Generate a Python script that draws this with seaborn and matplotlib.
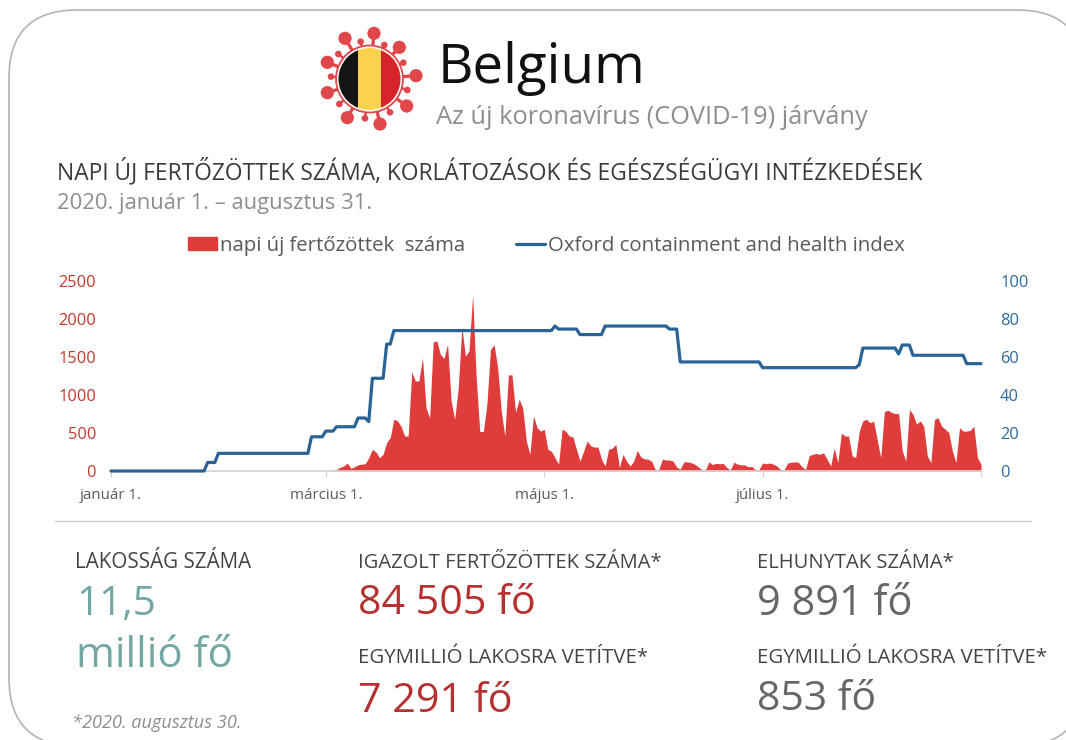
import matplotlib
matplotlib.use("Agg")
import matplotlib.pyplot as plt
from matplotlib.patches import FancyBboxPatch, Circle, Rectangle
from matplotlib.lines import Line2D
from matplotlib.patches import Patch
import pandas as pd
import seaborn as sns

# ---------- data ----------
start_date = "2020-01-01"
new_cases_first_60_days = [0] * 60
new_cases_from_march = [
    0, 0, 10, 20, 50, 65, 105, 35, 55, 80, 90, 95, 175, 285, 250, 175, 220, 375, 440, 680,
    660, 590, 460, 460, 1305, 1185, 1185, 1490, 830, 700, 1700, 1710, 1535, 1480, 1670, 920, 680, 1100, 1890, 1510,
    1580, 2315, 1230, 520, 520, 880, 1600, 1660, 1360, 790, 460, 1265, 1265, 770, 945, 830, 395, 220, 725, 570,
    525, 550, 285, 260, 175, 90, 550, 525, 460, 450, 285, 130, 260, 395, 330, 315, 315, 155, 65, 285,
    300, 350, 45, 220, 130, 65, 130, 270, 185, 160, 155, 130, 20, 20, 155, 145, 145, 130, 50, 25,
    120, 120, 110, 90, 55, 20, 10, 120, 85, 100, 95, 100, 45, 15, 115, 90, 80, 80, 55, 60,
    15, 20, 105, 95, 105, 90, 65, 20, 15, 105, 115, 120, 115, 55, 20, 200, 220, 230, 220, 240,
    155, 65, 300, 110, 500, 460, 460, 200, 175, 525, 660, 680, 635, 655, 415, 175, 780, 800, 770, 755,
    755, 265, 130, 810, 745, 615, 660, 590, 200, 110, 680, 700, 590, 550, 505, 265, 110, 570, 525, 525,
    535, 590, 175, 90,
]
index_values = (
    [0] * 27 + [4.5] * 3 + [9.3] * 26 + [18] * 4 + [21] * 3 + [23.3] * 6 + [27.9] * 3 + [26]
    + [48.8] * 4 + [66.8] * 2 + [73.9] * 45 + [76.3, 74.7] + [74.7] * 5 + [71.8] * 7 + [76.3] * 18
    + [74.7] * 3 + [57.4] * 23 + [54.4] * 27 + [56.0] + [64.7] * 10 + [61.6] + [66.3] * 3 + [60.9] * 15
    + [56.5] * 5
)
case_ticks = [0, 500, 1000, 1500, 2000, 2500]
index_ticks = [0, 20, 40, 60, 80, 100]
month_ticks = ["2020-01-01", "2020-03-01", "2020-05-01", "2020-07-01", "2020-08-31"]
month_labels = ["január 1.", "március 1.", "május 1.", "július 1.", ""]
case_label = "napi új fertőzöttek  száma"
index_label = "Oxford containment and health index"

# ---------- assemble ----------
new_cases = new_cases_first_60_days + new_cases_from_march
n = min(len(new_cases), len(index_values))
df = pd.DataFrame({
    "date": pd.date_range(start_date, periods=n),
    "cases": new_cases[:n],
    "index": index_values[:n],
})

sns.set_theme(style="white")
FONT = ["Open Sans", "DejaVu Sans"]
plt.rcParams["font.family"] = FONT

W, H = 1066, 740
RED_AREA, BLUE = "#e03c3c", "#2a6496"
RED_TICK, BLUE_TICK = "#c0392b", "#2f6a9c"
GREY_TXT, DARK_TXT = "#8e8e8e", "#3a3a3a"
TEAL, DEEP_RED, MID_GREY = "#72a7a3", "#b5302f", "#666666"

fig = plt.figure(figsize=(W / 100, H / 100), dpi=100, facecolor="white")

# overlay in pixel coordinates for frame, logo, text
bg = fig.add_axes([0, 0, 1, 1], zorder=0)
bg.set_xlim(0, W)
bg.set_ylim(H, 0)
bg.axis("off")
bg.add_patch(FancyBboxPatch((9, 10), 1076, 736, boxstyle="round,pad=0,rounding_size=68",
                            fc="white", ec="#b4b4b4", lw=1.2))
bg.add_line(Line2D([55, 1031], [521, 521], color="#cccccc", lw=1.0))

# chart
ax = fig.add_axes([111 / W, 1 - 471 / H, (981 - 111) / W, 190 / H], zorder=2)
ax.patch.set_alpha(0)
ax.fill_between(df["date"], df["cases"], 0, color=RED_AREA, lw=0, zorder=2)
ax.set_ylim(0, 2500)
ax.set_xlim(df["date"].iloc[0], df["date"].iloc[-1])
ax.set_yticks(case_ticks)
ax.set_xticks(pd.to_datetime(month_ticks))
ax.set_xticklabels(month_labels, color="#595959", fontsize=10.8)
ax.tick_params(axis="y", length=0, pad=10.8, labelcolor=RED_TICK, labelsize=11.8)
ax.tick_params(axis="x", length=4, width=0.8, color="#d0d0d0", pad=8, bottom=True)
ax.set_xlabel("")
ax.set_ylabel("")
for s in ["top", "left", "right"]:
    ax.spines[s].set_visible(False)
ax.spines["bottom"].set_color("#d5d5d5")

ax2 = ax.twinx()
ax2.set_zorder(3)
sns.lineplot(data=df, x="date", y="index", ax=ax2, color=BLUE, lw=2.3, legend=False, clip_on=False)
ax2.set_ylim(0, 100)
ax2.set_yticks(index_ticks)
ax2.tick_params(axis="y", length=0, pad=13.7, labelcolor=BLUE_TICK, labelsize=11.8)
ax2.set_ylabel("")
ax2.set_xlabel("")
for s in ["top", "left", "right", "bottom"]:
    ax2.spines[s].set_visible(False)

# legend
leg = ax.legend(
    handles=[Patch(color=RED_AREA, label=case_label), Line2D([0], [0], color=BLUE, lw=2.3, label=index_label)],
    ncol=2, loc="center left", bbox_to_anchor=((188 - 111) / 870, (471 - 246) / 190), frameon=False,
    fontsize=14.65, labelcolor="#595959", handlelength=1.42, handleheight=0.6, handletextpad=0.15, columnspacing=2.5,
    borderaxespad=0, borderpad=0,
)
leg.set_zorder(5)

# logo
cx, cy = 369.5, 79
LOGO_RED = "#e0474a"
big_blobs = [(222, 70), (298, 112), (348, 197), (320, 288), (240, 342), (142, 323), (82, 248), (82, 157), (135, 85)]
small_blobs = [(182, 95), (253, 105), (310, 158), (322, 240), (270, 307), (195, 325), (118, 282), (93, 200), (115, 132)]
for blobs, r, lw in ((big_blobs, 6.6, 2.4), (small_blobs, 3.3, 1.8)):
    for zx, zy in blobs:
        px, py = 300 + zx / 3, 10 + zy / 3
        bg.add_line(Line2D([cx, px], [cy, py], color=LOGO_RED, lw=lw, zorder=3))
        bg.add_patch(Circle((px, py), r, fc=LOGO_RED, ec="none", zorder=3))
bg.add_patch(Circle((cx, cy), 33.5, fc="white", ec=LOGO_RED, lw=1.3, zorder=4))
clip = Circle((cx, cy), 31, transform=bg.transData)
for x0, x1, col in ((330, 358.3, "#141414"), (358.3, 380.7, "#fbd24e"), (380.7, 410, "#d8232a")):
    rect = Rectangle((x0, 40), x1 - x0, 80, fc=col, ec="none", zorder=5)
    bg.add_patch(rect)
    rect.set_clip_path(clip)

# text fitted to its measured pixel width
renderer = fig.canvas.get_renderer()
def fitted(x, y, s, width, color, size=12, **kw):
    t = bg.text(x, y, s, color=color, fontsize=size, va="center", ha="left", zorder=6, **kw)
    w = t.get_window_extent(renderer).width
    t.set_fontsize(size * width / w)
    return t

fitted(438, 69, "Belgium", 207, "#111111")
fitted(436, 117, "Az új koronavírus (COVID-19) járvány", 429, GREY_TXT)
fitted(57, 172, "NAPI ÚJ FERTŐZÖTTEK SZÁMA, KORLÁTOZÁSOK ÉS EGÉSZSÉGÜGYI INTÉZKEDÉSEK", 865, DARK_TXT)
fitted(57, 203, "2020. január 1. – augusztus 31.", 315, GREY_TXT)

fitted(75, 563, "LAKOSSÁG SZÁMA", 176, "#444444")
fitted(76, 605, "11,5", 79, TEAL)
fitted(76, 656, "millió fő", 156, TEAL)
fitted(72, 723, "*2020. augusztus 30.", 169, GREY_TXT, style="italic")

fitted(358, 563, "IGAZOLT FERTŐZÖTTEK SZÁMA*", 302, "#444444")
fitted(358, 604, "84 505 fő", 178, DEEP_RED)
fitted(358, 658, "EGYMILLIÓ LAKOSRA VETÍTVE*", 289, "#444444")
fitted(358, 702, "7 291 fő", 154, DEEP_RED)

fitted(757, 563, "ELHUNYTAK SZÁMA*", 196, "#444444")
fitted(757, 604, "9 891 fő", 155, MID_GREY)
fitted(757, 658, "EGYMILLIÓ LAKOSRA VETÍTVE*", 290, "#444444")
fitted(757, 700, "853 fő", 119, MID_GREY)

fig.savefig("out.png", dpi=100)
